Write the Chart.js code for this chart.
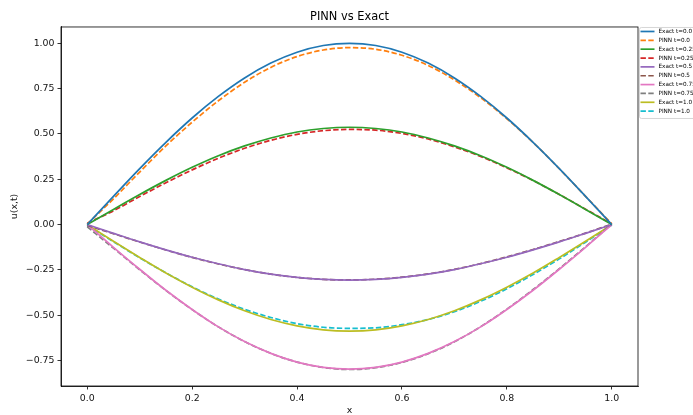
<!DOCTYPE html>
<html>
<head>
<meta charset="utf-8">
<script src="https://cdn.jsdelivr.net/npm/chart.js@4/dist/chart.umd.min.js"></script>
<style>
  html, body { margin: 0; padding: 0; background: #fff; }
  #wrap { width: 693px; height: 415px; }
</style>
</head>
<body>
<div id="wrap"><canvas id="c" width="693" height="415"></canvas></div>
<script>
// Sample positions along x
const X = [0, 0.05, 0.1, 0.15, 0.2, 0.25, 0.3, 0.35, 0.4, 0.45, 0.5,
           0.55, 0.6, 0.65, 0.7, 0.75, 0.8, 0.85, 0.9, 0.95, 1.0];

// u(x,t) at each time: exact solution and PINN prediction
const EXACT_T0   = [0, .156, .309, .454, .588, .707, .809, .891, .951, .988, 1.0,
                    .988, .951, .891, .809, .707, .588, .454, .309, .156, 0];
const PINN_T0    = [0.003, .142, .290, .434, .565, .683, .785, .867, .927, .963, .976,
                    .967, .934, .878, .798, .700, .584, .453, .308, .156, 0.004];
const EXACT_T025 = [0, .084, .166, .244, .316, .380, .434, .478, .511, .530, .537,
                    .530, .511, .478, .434, .380, .316, .244, .166, .084, 0];
const PINN_T025  = [0.008, .076, .155, .231, .302, .366, .421, .465, .498, .518, .525,
                    .521, .503, .472, .429, .376, .313, .243, .166, .085, 0.004];
const EXACT_T05  = [0, -.048, -.095, -.139, -.180, -.216, -.248, -.273, -.291, -.302, -.306,
                    -.302, -.291, -.273, -.248, -.216, -.180, -.139, -.095, -.048, 0];
const PINN_T05   = [-0.004, -.050, -.096, -.140, -.181, -.217, -.248, -.273, -.291, -.302, -.305,
                    -.301, -.290, -.272, -.247, -.215, -.178, -.137, -.093, -.047, 0.002];
const EXACT_T075 = [0, -.125, -.246, -.362, -.468, -.564, -.645, -.710, -.758, -.787, -.797,
                    -.787, -.758, -.710, -.645, -.564, -.468, -.362, -.246, -.125, 0];
const PINN_T075  = [-0.012, -.130, -.249, -.363, -.469, -.564, -.645, -.710, -.758, -.788, -.799,
                    -.789, -.760, -.712, -.646, -.563, -.466, -.358, -.243, -.122, 0.003];
const EXACT_T1   = [0, -.092, -.181, -.267, -.345, -.415, -.475, -.523, -.558, -.580, -.587,
                    -.580, -.558, -.523, -.475, -.415, -.345, -.267, -.181, -.092, 0];
const PINN_T1    = [-0.006, -.094, -.183, -.266, -.343, -.410, -.467, -.512, -.546, -.566, -.572,
                    -.569, -.552, -.523, -.480, -.423, -.354, -.275, -.189, -.097, -0.002];

const SERIES_LABELS = ['Exact t=0.0', 'PINN t=0.0', 'Exact t=0.25', 'PINN t=0.25',
                       'Exact t=0.5', 'PINN t=0.5', 'Exact t=0.75', 'PINN t=0.75',
                       'Exact t=1.0', 'PINN t=1.0'];
const SERIES_VALUES = [EXACT_T0, PINN_T0, EXACT_T025, PINN_T025, EXACT_T05, PINN_T05,
                       EXACT_T075, PINN_T075, EXACT_T1, PINN_T1];

const X_TICKS = [0.0, 0.2, 0.4, 0.6, 0.8, 1.0];
const Y_TICKS = [-0.75, -0.5, -0.25, 0.0, 0.25, 0.5, 0.75, 1.0];

const COLORS = ['#1f77b4', '#ff7f0e', '#2ca02c', '#d62728', '#9467bd',
                '#8c564b', '#e377c2', '#7f7f7f', '#bcbd22', '#17becf'];
const FONT = 'DejaVu Sans';
const LW = 1.7;
const DASH = [5.4, 2.4];

const datasets = SERIES_VALUES.map((vals, i) => ({
  label: SERIES_LABELS[i],
  data: vals.map((y, k) => ({ x: X[k], y })),
  borderColor: COLORS[i],
  backgroundColor: COLORS[i],
  borderWidth: LW,
  borderDash: i % 2 === 1 ? DASH : [],
  pointRadius: 0,
  cubicInterpolationMode: 'monotone',
  fill: false
}));

// Frame on all four sides of the plot area
const framePlugin = {
  id: 'frame',
  afterDraw(chart) {
    const { ctx, chartArea: a } = chart;
    ctx.save();
    ctx.strokeStyle = '#000';
    ctx.lineWidth = 0.8;
    ctx.strokeRect(a.left, a.top, a.right - a.left, a.bottom - a.top);
    ctx.restore();
  }
};

// Legend box placed just right of the plot area, running off the canvas edge
const sideLegend = {
  id: 'sideLegend',
  afterDraw(chart) {
    const { ctx, chartArea: a } = chart;
    const x0 = a.right + 1.5, y0 = a.top + 0.5;
    const rowH = 8.85, h = 91;
    ctx.save();
    ctx.fillStyle = 'rgba(255,255,255,0.8)';
    ctx.strokeStyle = '#cccccc';
    ctx.lineWidth = 0.8;
    ctx.beginPath();
    if (ctx.roundRect) ctx.roundRect(x0, y0, 80, h, 2); else ctx.rect(x0, y0, 80, h);
    ctx.fill();
    ctx.stroke();
    ctx.font = '5.7px "' + FONT + '"';
    ctx.textBaseline = 'middle';
    ctx.textAlign = 'left';
    chart.data.datasets.forEach((ds, i) => {
      const cy = y0 + 4 + rowH * i;
      ctx.strokeStyle = ds.borderColor;
      ctx.lineWidth = LW;
      ctx.setLineDash(ds.borderDash || []);
      ctx.beginPath();
      ctx.moveTo(x0 + 1, cy);
      ctx.lineTo(x0 + 15, cy);
      ctx.stroke();
      ctx.setLineDash([]);
      ctx.fillStyle = '#000';
      ctx.fillText(ds.label, x0 + 19, cy);
    });
    ctx.restore();
  }
};

const fmt = (v, d) => v.toFixed(d).replace('-', '\u2212');

new Chart(document.getElementById('c'), {
  type: 'line',
  data: { datasets },
  options: {
    responsive: false,
    animation: false,
    devicePixelRatio: 1,
    layout: { padding: { left: 0, right: 55, top: 0, bottom: 0 } },
    plugins: {
      legend: { display: false },
      tooltip: { enabled: false },
      title: {
        display: true,
        text: 'PINN vs Exact',
        fullSize: false,
        color: '#000',
        font: { family: FONT, size: 11.4, weight: 'normal' },
        padding: { top: 10.6, bottom: 2.7 }
      }
    },
    scales: {
      x: {
        type: 'linear',
        min: -0.05,
        max: 1.05,
        afterBuildTicks: s => { s.ticks = X_TICKS.map(v => ({ value: v })); },
        afterFit: s => { s.height = 29; },
        grid: { drawOnChartArea: false, drawTicks: true, tickLength: 3.5, color: '#000', lineWidth: 0.8 },
        border: { display: true, color: '#000', width: 0.8 },
        ticks: {
          color: '#111', padding: 3, maxRotation: 0, autoSkip: false,
          font: { family: FONT, size: 9.4 },
          callback: v => fmt(v, 1)
        },
        title: {
          display: true, text: 'x', color: '#111',
          font: { family: FONT, size: 9.4 },
          padding: { top: 0, bottom: -1 }
        }
      },
      y: {
        type: 'linear',
        min: -0.89,
        max: 1.09,
        afterBuildTicks: s => { s.ticks = Y_TICKS.map(v => ({ value: v })); },
        afterFit: s => { s.width = 61; },
        grid: { drawOnChartArea: false, drawTicks: true, tickLength: 3.5, color: '#000', lineWidth: 0.8 },
        border: { display: true, color: '#000', width: 0.8 },
        ticks: {
          color: '#111', padding: 3, autoSkip: false,
          font: { family: FONT, size: 9.4 },
          callback: v => fmt(v, 2)
        },
        title: {
          display: true, text: 'u(x,t)', color: '#111',
          font: { family: FONT, size: 9.4 },
          padding: { top: 9.4, bottom: 0 }
        }
      }
    }
  },
  plugins: [framePlugin, sideLegend]
});
</script>
</body>
</html>
